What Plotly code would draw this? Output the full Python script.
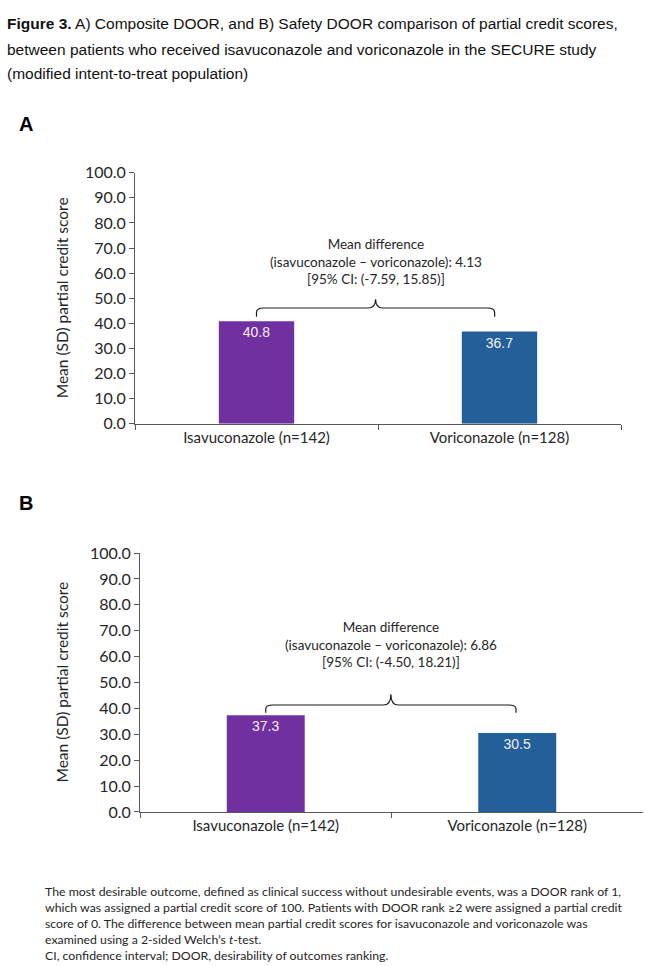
import plotly.graph_objects as go

# ---------------- data ----------------
categories = ["Isavuconazole (n=142)", "Voriconazole (n=128)"]
composite_scores = [40.8, 36.7]
safety_scores = [37.3, 30.5]
mean_diff = [4.13, 6.86]
ci_low = [-7.59, -4.50]
ci_high = [15.85, 18.21]
y_ticks = [0, 10, 20, 30, 40, 50, 60, 70, 80, 90, 100]
panel_labels = ["A", "B"]

title_lines = [
    "<b>Figure 3.</b> A) Composite DOOR, and B) Safety DOOR comparison of partial credit scores,",
    "between patients who received isavuconazole and voriconazole in the SECURE study",
    "(modified intent-to-treat population)",
]
footnote = ("The most desirable outcome, defined as clinical success without undesirable events, was a DOOR rank of 1,<br>"
            "which was assigned a partial credit score of 100. Patients with DOOR rank \u22652 were assigned a partial credit<br>"
            "score of 0. The difference between mean partial credit scores for isavuconazole and voriconazole was<br>"
            "examined using a 2-sided Welch\u2019s <i>t</i>-test.<br>"
            "CI, confidence interval; DOOR, desirability of outcomes ranking.")

# ---------------- styling ----------------
W, H = 646, 966
PURPLE = "#7030A0"
BLUE = "#235F99"
AXIS_COL = "#595959"
TXT = "#262626"
FONT = "Lato"

def px_x(v):
    return v / W

def px_y(v):
    return 1 - v / H

# panel geometry in pixels
panels = [
    dict(xl=135, xr=621, yt=166, yb=422, lab_y=116, yt_x=62,
         br_gap=5.3, br_leg=1.8, br_bump=3.5, br_right=0.98),
    dict(xl=140, xr=643, yt=554, yb=818, lab_y=503, yt_x=62,
         br_gap=4.0, br_leg=1.0, br_bump=4.2, br_right=0.995),
]
series = [composite_scores, safety_scores]

fig = go.Figure()
shapes = []
annotations = []

for i, (p, vals) in enumerate(zip(panels, series)):
    n = "" if i == 0 else str(i + 1)
    xa = "x" + n
    ya = "y" + n
    fig.add_trace(go.Bar(
        x=categories, y=vals, xaxis=xa, yaxis=ya,
        marker=dict(color=[PURPLE, BLUE], line=dict(width=0)),
        width=0.31,
        text=[f"{v:.1f}" for v in vals],
        textposition="inside", insidetextanchor="end",
        textfont=dict(family="Liberation Sans, Arial", size=14, color="#F4EEF8"),
        showlegend=False, hoverinfo="skip",
    ))
    axis_common = dict(showline=True, linecolor=AXIS_COL, linewidth=1,
                       ticks="outside", tickcolor=AXIS_COL, ticklen=5, tickwidth=1,
                       showgrid=False, zeroline=False,
                       tickfont=dict(family=FONT, size=15, color=TXT))
    fig.update_layout(**{
        ("xaxis" + n): dict(axis_common, type="category", tickson="boundaries",
                            domain=[px_x(p["xl"]), px_x(p["xr"])],
                            anchor=ya, range=[-0.5, 1.5]),
        ("yaxis" + n): dict(axis_common, range=[0, 100], tickvals=y_ticks,
                            tickformat=".1f",
                            tickfont=dict(family=FONT, size=16, color=TXT),
                            domain=[px_y(p["yb"]), px_y(p["yt"])],
                            anchor=xa),
    })
    # bracket
    top = max(vals)
    yh = top + p["br_gap"]
    yl = top + p["br_leg"]
    yb = yh + p["br_bump"]
    x0, x1 = 0.0, p["br_right"]
    xc = (x0 + x1) / 2
    dx = 0.03
    dy = (yh - yl) * 0.5
    path = (f"M {x0},{yl} L {x0},{yh-dy} Q {x0},{yh} {x0+dx},{yh} "
            f"L {xc-dx},{yh} Q {xc},{yh} {xc},{yb} Q {xc},{yh} {xc+dx},{yh} "
            f"L {x1-dx},{yh} Q {x1},{yh} {x1},{yh-dy} L {x1},{yl}")
    shapes.append(dict(type="path", path=path, xref=xa, yref=ya,
                       line=dict(color="#1a1a1a", width=1.2)))
    annotations.append(dict(
        x=xc, y=64.8, xref=xa, yref=ya, showarrow=False,
        text=(f"Mean difference<br>(isavuconazole \u2013 voriconazole): {mean_diff[i]:.2f}"
              f"<br>[95% CI: ({ci_low[i]:.2f}, {ci_high[i]:.2f})]"),
        font=dict(family=FONT, size=13.5, color=TXT), align="center",
        xanchor="center", yanchor="middle"))
    # y-axis title
    annotations.append(dict(
        x=px_x(p["yt_x"]), y=px_y((p["yt"] + p["yb"]) / 2), xref="paper", yref="paper",
        text="Mean (SD) partial credit score", textangle=-90, showarrow=False,
        font=dict(family=FONT, size=15.5, color=TXT), xanchor="center", yanchor="middle"))
    # panel label
    annotations.append(dict(
        x=px_x(17), y=px_y(p["lab_y"]), xref="paper", yref="paper",
        text=f"<b>{panel_labels[i]}</b>", showarrow=False,
        font=dict(family="Liberation Sans, Arial", size=20, color="#000000"),
        xanchor="left", yanchor="middle"))

# title lines
for k, (line, yy) in enumerate(zip(title_lines, [14, 40, 65])):
    annotations.append(dict(
        x=px_x(5), y=px_y(yy), xref="paper", yref="paper", text=line,
        showarrow=False, xanchor="left", yanchor="middle", align="left",
        font=dict(family="Liberation Sans, Arial", size=15.5, color="#111111")))

# footnote
annotations.append(dict(
    x=px_x(43), y=px_y(932), xref="paper", yref="paper", text=footnote,
    showarrow=False, xanchor="left", yanchor="middle", align="left",
    font=dict(family=FONT, size=12.3, color=TXT)))

fig.update_layout(
    width=W, height=H, margin=dict(l=0, r=0, t=0, b=0),
    paper_bgcolor="white", plot_bgcolor="white",
    shapes=shapes, annotations=annotations, bargap=0.69,
)

fig.write_html("out.html")
